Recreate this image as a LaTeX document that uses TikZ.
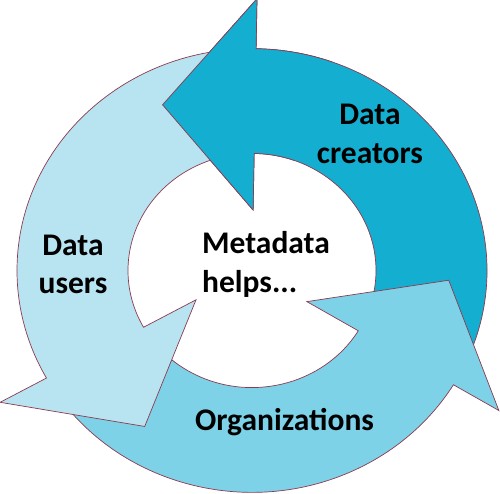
\documentclass[tikz,border=0pt]{standalone}
\usepackage{fontspec}
\setmainfont{Carlito}
\usetikzlibrary{positioning}

\definecolor{creators}{RGB}{20,174,208}
\definecolor{orgs}{RGB}{125,210,232}
\definecolor{users}{RGB}{184,228,241}
\definecolor{rim}{RGB}{140,58,80}

% one bent arrow of the cycle: tail angle, head angle
\newcommand{\cyclearrow}[2]{(#1:235) arc[start angle=#1, end angle=#2, radius=235]
  -- (#2:288) -- ({#2+28}:197) -- (#2:64) -- (#2:124)
  arc[start angle=#2, end angle=#1, radius=124] -- cycle}

\begin{document}
\begin{tikzpicture}[x=1pt, y=1pt,
            arrowpart/.style={draw=rim, line width=0.7pt, line join=miter},
            lbl/.style={font=\bfseries\fontsize{31.5}{38.5}\selectfont, align=center, inner sep=0pt}]
        \useasboundingbox (-252,-222.5) rectangle (248,270.5);
        \begin{scope}[y=0.944pt]
            \path[arrowpart, fill=creators] \cyclearrow{-31}{89};
            \path[arrowpart, fill=orgs] \cyclearrow{209}{329};
            \path[arrowpart, fill=users] \cyclearrow{89}{209};
            % head of the first arrow lies over the tail of the last one
            \begin{scope}
                \clip (0,0) -- (70:330) -- (135:330) -- cycle;
                \path[arrowpart, fill=creators] \cyclearrow{-31}{89};
            \end{scope}
        \end{scope}
        \node[lbl, align=left] (centre) at (14,6) {Metadata\\helps...};
        \node[lbl] (creatorlbl) at (118,136.5) {Data\\creators};
        \node[lbl] (userlbl) at (-179,6) {Data\\users};
        \node[lbl, anchor=base] (orglbl) at (32.5,-159.5) {Organizations};
\end{tikzpicture}
\end{document}
